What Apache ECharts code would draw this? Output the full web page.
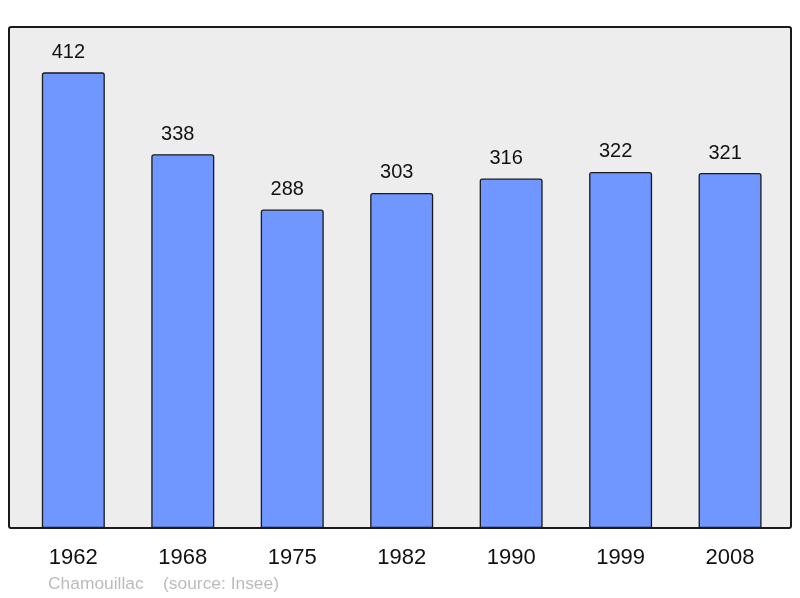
<!DOCTYPE html>
<html>
<head>
<meta charset="utf-8">
<script src="https://cdn.jsdelivr.net/npm/echarts@6/dist/echarts.min.js"></script>
<style>
html,body{margin:0;padding:0;background:#fff;}
#chart{width:800px;height:598px;}
</style>
</head>
<body>
<div id="chart"></div>
<script>
// données population
var years = ['1962', '1968', '1975', '1982', '1990', '1999', '2008'];
var population = [412, 338, 288, 303, 316, 322, 321];
var yMax = 453;
var footer = 'Chamouillac    (source: Insee)';

var chart = echarts.init(document.getElementById('chart'));
var option = {
    animation: false,
    textStyle: {fontFamily: 'Liberation Sans'},
    graphic: [
        {
            type: 'rect',
            z: -10,
            shape: {x: 9, y: 27, width: 782, height: 501, r: 2},
            style: {fill: '#ededed', stroke: '#1a1a1a', lineWidth: 2}
        }
    ],
    title: {
        text: footer,
        left: 48,
        top: 576,
        padding: 0,
        textStyle: {color: '#bbbbbb', fontSize: 17.4, fontWeight: 'normal', fontFamily: 'Liberation Sans'}
    },
    grid: {
        left: 18.6,
        right: 15.2,
        top: 27,
        bottom: 70,
        containLabel: false
    },
    xAxis: {
        type: 'category',
        data: years,
        boundaryGap: true,
        axisLine: {show: false},
        axisTick: {show: false},
        axisLabel: {
            margin: 19,
            fontSize: 22,
            color: '#111',
            fontFamily: 'Liberation Sans'
        }
    },
    yAxis: {
        type: 'value',
        min: 0,
        max: yMax,
        show: false,
        splitLine: {show: false}
    },
    series: [
        {
            type: 'bar',
            data: population,
            barWidth: 63,
            itemStyle: {
                color: '#7096ff',
                borderColor: '#1a1a1a',
                borderWidth: 1.3,
                borderRadius: [2, 2, 0, 0]
            },
            label: {
                show: true,
                position: 'top',
                distance: 10,
                offset: [-5, 0],
                fontSize: 20,
                color: '#111',
                fontFamily: 'Liberation Sans'
            }
        }
    ]
};
chart.setOption(option);
</script>
</body>
</html>
